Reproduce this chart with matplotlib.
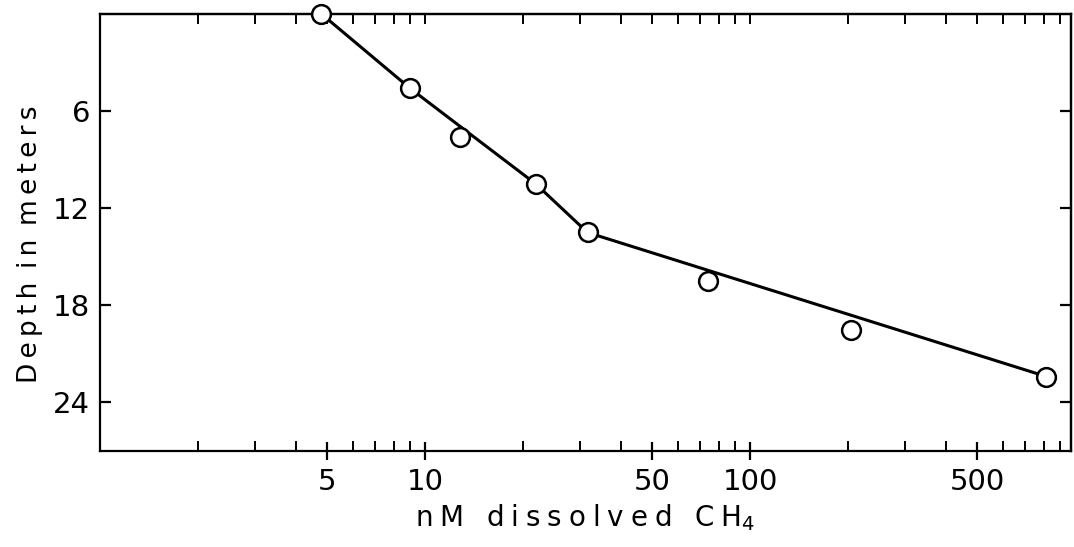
import matplotlib
matplotlib.use("Agg")
import matplotlib.pyplot as plt
from matplotlib.ticker import FixedLocator, NullFormatter

# measured points: dissolved CH4 (nM) vs depth (m)
ch4 = [4.8, 9.0, 12.8, 21.9, 31.6, 74, 204, 815]
depth = [0, 4.6, 7.6, 10.5, 13.5, 16.5, 19.5, 22.4]

# line drawn through the profile
fit_ch4 = [4.8, 9.0, 21.9, 31.6, 815]
fit_depth = [0, 4.6, 10.5, 13.5, 22.4]

xticks = [5, 10, 50, 100, 500]
xticklabels = ["5", "10", "50", "100", "500"]
yticks = [6, 12, 18, 24]
yticklabels = ["6", "12", "18", "24"]

plt.rcParams["font.family"] = ["DejaVu Sans"]
plt.rcParams["mathtext.fontset"] = "dejavusans"

fig = plt.figure(figsize=(10.74, 5.47), dpi=100)
ax = fig.add_axes([100/1074, 1-451/547, 971/1074, 437/547])

ax.plot(fit_ch4, fit_depth, color="black", lw=2.2, zorder=3, clip_on=False)
ax.plot(ch4, depth, "o", ms=13.5, mfc="white", mec="black", mew=1.8,
        zorder=5, clip_on=False)

ax.set_xscale("log")
ax.set_xlim(1, 970)
ax.set_ylim(27, 0)

minors = [m*d for d in (1, 10, 100) for m in range(2, 10)]
minors = [v for v in minors if v not in xticks and v < 970]

ax.xaxis.set_major_locator(FixedLocator(xticks))
ax.set_xticklabels(xticklabels)
ax.xaxis.set_minor_locator(FixedLocator(minors))
ax.xaxis.set_minor_formatter(NullFormatter())
ax.set_yticks(yticks)
ax.set_yticklabels(yticklabels)

ax.tick_params(axis="x", which="major", direction="inout", length=13, width=1.6,
               labelsize=21, pad=6)
ax.tick_params(axis="x", which="minor", direction="in", length=7, width=1.4)
ax.tick_params(axis="y", which="major", direction="in", length=8, width=1.6,
               labelsize=21, pad=7)

# ticks on top and right, no labels
top = ax.secondary_xaxis("top")
top.xaxis.set_major_locator(FixedLocator(xticks))
top.xaxis.set_minor_locator(FixedLocator(minors))
top.xaxis.set_major_formatter(NullFormatter())
top.xaxis.set_minor_formatter(NullFormatter())
top.tick_params(which="both", direction="in", length=7, width=1.4)
top.spines["top"].set_linewidth(1.6)

right = ax.secondary_yaxis("right")
right.set_yticks(yticks)
right.yaxis.set_major_formatter(NullFormatter())
right.tick_params(direction="in", length=8, width=1.6)
right.spines["right"].set_linewidth(1.6)

for s in ax.spines.values():
    s.set_linewidth(1.6)

# spaced-out lettering like the original
def spaced(text, gap, wordgap):
    return wordgap.join(gap.join(w) for w in text.split(" "))

ax.set_xlabel(spaced("nM dissolved CH", "\u2005", " \u2005\u2005") + "$_4$",
              fontsize=20, labelpad=4)
ax.set_ylabel(spaced("Depth in meters", "\u2009", " \u2009"), fontsize=19)
ax.yaxis.set_label_coords(-0.059, 0.474)

plt.savefig("out.png", dpi=100)
plt.close()
